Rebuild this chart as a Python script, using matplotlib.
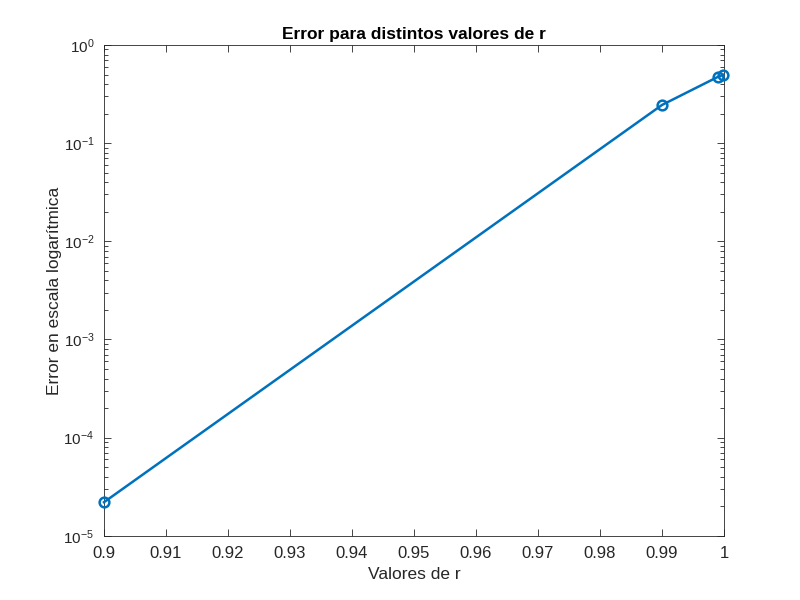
import matplotlib
matplotlib.use('Agg')
import matplotlib.pyplot as plt
import numpy as np

r_vals = [0.9, 0.99, 0.999, 0.9999]
err_vals = [2.2e-5, 0.245, 0.473, 0.497]
xticks = [0.9, 0.91, 0.92, 0.93, 0.94, 0.95, 0.96, 0.97, 0.98, 0.99, 1.0]
xtick_labels = ['0.9', '0.91', '0.92', '0.93', '0.94', '0.95', '0.96', '0.97', '0.98', '0.99', '1']

plt.rcParams['font.family'] = ['Liberation Sans', 'DejaVu Sans']

fig = plt.figure(figsize=(8, 6), dpi=100)
ax = fig.add_axes([0.13, 0.107, 0.775, 0.818])

ax.semilogy(r_vals, err_vals, '-o', color='#0072BD', linewidth=1.8,
            markersize=7, markerfacecolor='none', markeredgewidth=1.8,
            clip_on=False, zorder=5)

ax.set_xlim(0.9, 1.0)
ax.set_ylim(1e-5, 1)
ax.set_xticks(xticks)
ax.set_xticklabels(xtick_labels)
ax.set_yticks([1e-5, 1e-4, 1e-3, 1e-2, 1e-1, 1])

ax.tick_params(which='both', direction='in', top=True, right=True,
               labelsize=12, colors='#262626')
ax.tick_params(which='major', length=5, width=0.6)
ax.tick_params(which='minor', length=3, width=0.6)
ax.tick_params(axis='x', which='minor', bottom=False, top=False)
ax.tick_params(axis='x', pad=7)
ax.tick_params(axis='y', pad=7, labelsize=11)
for s in ax.spines.values():
    s.set_linewidth(0.6)
    s.set_color('#262626')

ax.set_xlabel('Valores de r', fontsize=12.5, color='#262626', labelpad=5)
ax.set_ylabel('Error en escala logarítmica', fontsize=12.5, color='#262626', labelpad=1)
ax.set_title('Error para distintos valores de r', fontsize=12.5, fontweight='bold', pad=4)

fig.savefig('out.png', dpi=100)
